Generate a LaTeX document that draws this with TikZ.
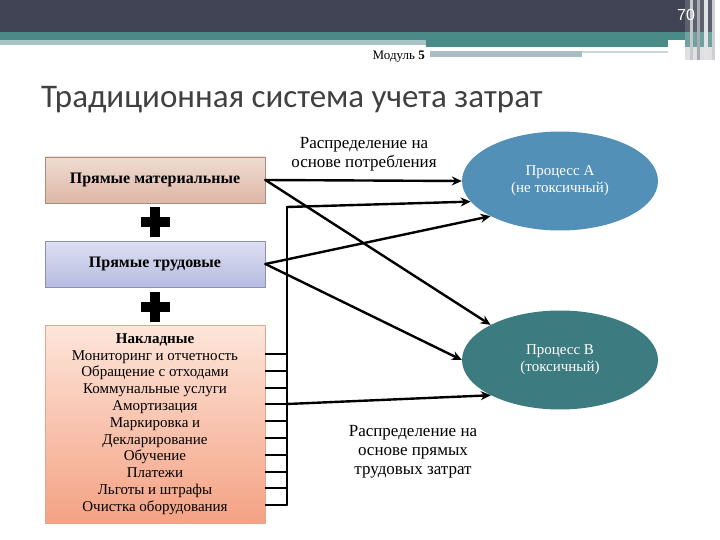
\documentclass[tikz,border=0pt]{standalone}
\usepackage{fontspec}
\setmainfont{Liberation Serif}
\newfontfamily\titlefont{Carlito}
\newfontfamily\numfont{Liberation Sans}
\usetikzlibrary{shapes.geometric,arrows.meta}
\definecolor{hdr}{HTML}{404455}
\definecolor{tealA}{HTML}{4A8A87}
\definecolor{ltband}{HTML}{A8C4C4}
\definecolor{ltgrey}{HTML}{A9BEC3}
\definecolor{ellA}{HTML}{5290B8}
\definecolor{ellB}{HTML}{3C7C81}
\definecolor{HTMLbrown}{HTML}{B08A7C}
\definecolor{boxAtop}{HTML}{F0DCD2}
\definecolor{boxAbot}{HTML}{DDB6A6}
\definecolor{boxBdraw}{HTML}{8C8EB4}
\definecolor{boxBtop}{HTML}{DDDFF2}
\definecolor{boxBbot}{HTML}{B7BBE0}
\definecolor{boxCdraw}{HTML}{E8A48A}
\definecolor{boxCtop}{HTML}{FDE6DA}
\definecolor{boxCbot}{HTML}{F4A284}
\tikzset{
  boxbase/.style={draw, line width=0.8pt, minimum width=220pt, inner sep=2pt, align=center},
  matbox/.style={boxbase, draw=HTMLbrown, top color=boxAtop, bottom color=boxAbot, minimum height=46pt, font=\fontsize{16}{18}\selectfont\bfseries},
  labbox/.style={boxbase, draw=boxBdraw, top color=boxBtop, bottom color=boxBbot, minimum height=46pt, font=\fontsize{16}{18}\selectfont\bfseries},
  ovbox/.style={boxbase, draw=boxCdraw, top color=boxCtop, bottom color=boxCbot, minimum height=198pt, font=\fontsize{15}{16.8}\selectfont},
  proc/.style={ellipse, minimum width=196pt, minimum height=99pt, text=white, align=center, font=\fontsize{15}{17}\selectfont},
  conn/.style={line width=2.4pt, line cap=round},
  arr/.style={conn, -{Stealth[length=10pt,width=9pt]}},
  lbl/.style={align=center, font=\fontsize{17}{19}\selectfont}
}
\begin{document}
\begin{tikzpicture}[x=1pt,y=-1pt]
\useasboundingbox (0,0) rectangle (720,540);
% header
\fill[hdr] (0,0) rectangle (720,32);
\fill[tealA] (0,32) rectangle (720,40);
\fill[ltband] (0,40) rectangle (426,45);
\fill[tealA] (426,40) rectangle (668,47);
\fill[ltgrey] (430,51) rectangle (582,57);
\fill[ltgrey!60] (582,51) rectangle (668,53);
% right stripes
\fill[hdr!85!white] (685,0) rectangle (720,32);
\fill[tealA!80!white] (685,32) rectangle (720,47);
\fill[black!12] (685,47) rectangle (720,60);
\fill[white!70!hdr] (690,0) rectangle (693,60);
\fill[white!55!hdr] (697,0) rectangle (700,60);
\fill[white!85!hdr] (704,0) rectangle (708,60);
\fill[white!75!hdr] (712,0) rectangle (715,60);
\fill[white] (715,0) rectangle (720,60);
\node[text=white, font=\numfont\fontsize{16}{16}\selectfont] (pg) at (686,15) {70};
\node[font=\fontsize{13}{14}\selectfont, anchor=east, inner sep=1pt] (mod) at (426,57) {Модуль \textbf{5}};
% title
\node[anchor=west, text=black!75, font=\titlefont\fontsize{33}{38}\selectfont, inner sep=0pt] (title) at (41,100) {Традиционная система учета затрат};
% boxes
\node[matbox] (pm) at (155,180) {Прямые материальные};
\node[labbox] (pt) at (155,264) {Прямые трудовые};
\node[ovbox] (ov) at (155,424) {\textbf{Накладные}\\Мониторинг и отчетность\\Обращение с отходами\\Коммунальные услуги\\Амортизация\\Маркировка и\\Декларирование\\Обучение\\Платежи\\Льготы и штрафы\\Очистка оборудования};
% plus signs
\foreach \py in {222,307}{
  \fill (140.5,\py-5) rectangle (169.5,\py+5);
  \fill (150,\py-15) rectangle (160,\py+15);
}
% processes
\node[proc, fill=ellA] (pa) at (560,181) {Процесс А\\(не токсичный)};
\node[proc, fill=ellB] (pb) at (560,360) {Процесс В\\(токсичный)};
% labels
\node[lbl] (l1) at (364,154) {Распределение на\\основе потребления};
\node[lbl] (l2) at (413,452) {Распределение на\\основе прямых\\трудовых затрат};
% bus
\coordinate (bt) at (287,207);
\coordinate (bm) at (287,404);
\coordinate (bb) at (287,505);
\draw[conn] (bt) -- (bb);
\foreach \ty in {354,371,388,404,421,438,455,472,488,505}{
  \draw[conn, line cap=butt] (ov.east |- 0,\ty) -- (bt |- 0,\ty);
}
% arrows
\draw[arr] (pm.east) -- (pa.west);
\draw[arr] (pm.east) -- (pb.north west);
\draw[arr] (pt.east) -- (pa.south west);
\draw[arr] (pt.east) -- (pb.west);
\draw[arr] (bt) -- (pa.193);
\draw[arr] (bm) -- (pb.207);
\end{tikzpicture}
\end{document}
